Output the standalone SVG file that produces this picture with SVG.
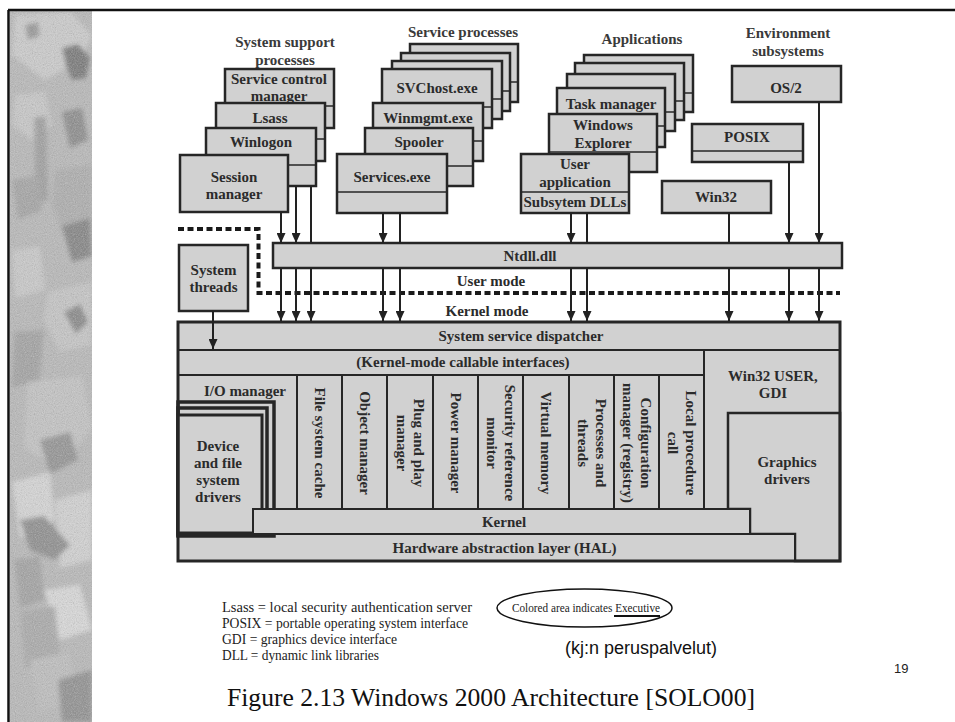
<svg xmlns="http://www.w3.org/2000/svg" width="955" height="722" viewBox="0 0 955 722">
<defs>
<style>
.box{fill:#d1d1d1;stroke:#262626;stroke-width:2.5}
.kb{fill:#d1d1d1;stroke:#262626;stroke-width:2}
.dv{stroke:#262626;stroke-width:1.6}
.t{font-family:"Liberation Serif","Times New Roman",serif;font-weight:bold;font-size:15px;fill:#2b2b2b;text-anchor:middle}
.h{font-family:"Liberation Serif","Times New Roman",serif;font-weight:bold;font-size:15px;fill:#3a3a3a;text-anchor:middle}
.fn{font-family:"Liberation Serif","Times New Roman",serif;font-size:14.5px;fill:#222}
.c{fill:none;stroke:#222;stroke-width:2}
.ca{fill:none;stroke:#222;stroke-width:2;marker-end:url(#ah)}
.stk{fill:none;stroke:#262626;stroke-width:3.5}
</style>
<marker id="ah" markerWidth="10" markerHeight="9" refX="10" refY="4.5" orient="auto" markerUnits="userSpaceOnUse">
<path d="M0,0 L10,4.5 L0,9 z" fill="#222"/>
</marker>
<filter id="grain" x="0" y="0" width="100%" height="100%">
<feTurbulence type="fractalNoise" baseFrequency="0.9" numOctaves="2" seed="4"/>
<feColorMatrix type="saturate" values="0"/>
<feComponentTransfer><feFuncA type="linear" slope="0.55"/></feComponentTransfer>
</filter>
<filter id="soft" x="-10%" y="-10%" width="120%" height="120%">
<feGaussianBlur stdDeviation="2"/>
</filter>
<clipPath id="stripclip"><rect x="10" y="11" width="82" height="711"/></clipPath>
</defs>
<rect x="0" y="0" width="955" height="722" fill="#ffffff"/>

<!-- decorative strip -->
<g id="strip" clip-path="url(#stripclip)">
<rect x="9" y="11" width="83" height="711" fill="#b8b8b8"/>
<g filter="url(#soft)">
<path d="M15,15 L70,12 L92,35 L80,60 L45,80 L12,55 Z" fill="#cdcdcd"/>
<path d="M62,48 L78,44 L90,58 L86,78 L72,80 L66,66 Z" fill="#727272"/>
<path d="M25,25 L38,22 L40,36 L28,40 Z" fill="#959595"/>
<path d="M15,95 L45,92 L52,125 L32,140 L12,125 Z" fill="#c9c9c9"/>
<path d="M62,112 L82,108 L88,140 L70,148 Z" fill="#878787"/>
<path d="M34,118 L46,116 L48,200 L36,204 Z" fill="#9c9c9c"/>
<path d="M12,180 L38,176 L42,210 L18,220 Z" fill="#a2a2a2"/>
<path d="M55,170 L92,165 L92,230 L65,238 L52,205 Z" fill="#acacac"/>
<path d="M62,226 L90,218 L92,256 L72,262 Z" fill="#7f7f7f"/>
<path d="M12,250 L40,246 L45,290 L15,298 Z" fill="#cacaca"/>
<path d="M48,292 L92,282 L92,345 L60,352 L44,320 Z" fill="#c6c6c6"/>
<path d="M64,312 L80,304 L88,322 L76,334 Z" fill="#838383"/>
<path d="M14,332 L44,330 L40,380 L12,388 Z" fill="#a0a0a0"/>
<path d="M28,382 L82,376 L92,428 L60,468 L24,448 Z" fill="#c4c4c4"/>
<path d="M40,440 L70,432 L78,460 L50,474 Z" fill="#909090"/>
<path d="M12,482 L50,472 L55,520 L20,538 Z" fill="#d8d8d8"/>
<path d="M55,500 L92,490 L92,560 L60,568 Z" fill="#d4d4d4"/>
<path d="M20,520 L44,516 L70,545 L55,560 L30,550 Z" fill="#8a8a8a"/>
<path d="M14,560 L40,556 L45,600 L20,608 Z" fill="#a0a0a0"/>
<path d="M44,590 L80,585 L92,630 L60,640 Z" fill="#dcdcdc"/>
<path d="M20,612 L55,606 L60,660 L25,668 Z" fill="#a8a8a8"/>
<path d="M30,660 L70,652 L75,700 L40,712 Z" fill="#bebebe"/>
<path d="M58,680 L92,670 L92,722 L62,722 Z" fill="#8c8c8c"/>
</g>
<rect x="9" y="11" width="83" height="711" filter="url(#grain)"/>
</g>
<g id="frame">
<line x1="8" y1="10" x2="955" y2="10" stroke="#111" stroke-width="2.5"/>
<line x1="8.5" y1="10" x2="8.5" y2="722" stroke="#111" stroke-width="2.5"/>
</g>

<!-- titles -->
<g id="titles">
<text class="h" x="285" y="47">System support</text>
<text class="h" x="285" y="65">processes</text>
<text class="h" x="463" y="37">Service processes</text>
<text class="h" x="642" y="44">Applications</text>
<text class="h" x="788" y="38">Environment</text>
<text class="h" x="788" y="56">subsystems</text>
</g>

<!-- system support processes -->
<g id="scm"><rect class="box" x="225" y="69" width="109" height="59"/><line class="dv" x1="225" y1="106" x2="334" y2="106"/><text class="t" x="279" y="84">Service control</text><text class="t" x="279" y="101">manager</text></g>
<g id="lsass"><rect class="box" x="216" y="103" width="109" height="58"/><line class="dv" x1="216" y1="139" x2="325" y2="139"/><text class="t" x="270" y="123">Lsass</text></g>
<g id="winlogon"><rect class="box" x="206" y="128" width="110" height="58"/><line class="dv" x1="206" y1="165" x2="316" y2="165"/><text class="t" x="261" y="147">Winlogon</text></g>
<g id="session-manager"><rect class="box" x="180" y="155" width="108" height="57"/><text class="t" x="234" y="182">Session</text><text class="t" x="234" y="198.5">manager</text></g>

<!-- service processes -->
<g id="svc-back3"><rect class="box" x="410" y="44" width="108" height="58"/><line class="dv" x1="410" y1="82" x2="518" y2="82"/></g>
<g id="svc-back2"><rect class="box" x="401" y="53" width="109" height="58"/><line class="dv" x1="401" y1="91" x2="510" y2="91"/></g>
<g id="svc-back1"><rect class="box" x="392" y="61" width="110" height="58"/><line class="dv" x1="392" y1="99" x2="502" y2="99"/></g>
<g id="svchost"><rect class="box" x="382" y="69" width="110" height="59"/><line class="dv" x1="382" y1="107" x2="492" y2="107"/><text class="t" x="437" y="93">SVChost.exe</text></g>
<g id="winmgmt"><rect class="box" x="373" y="103" width="110" height="58"/><line class="dv" x1="373" y1="141" x2="483" y2="141"/><text class="t" x="428" y="123">Winmgmt.exe</text></g>
<g id="spooler"><rect class="box" x="365" y="128" width="108" height="58"/><line class="dv" x1="365" y1="166" x2="473" y2="166"/><text class="t" x="419" y="147">Spooler</text></g>
<g id="services"><rect class="box" x="337" y="154" width="110" height="59"/><line class="dv" x1="337" y1="192" x2="447" y2="192"/><text class="t" x="392" y="182">Services.exe</text></g>

<!-- applications -->
<g id="app-back3"><rect class="box" x="584" y="55" width="109" height="57"/><line class="dv" x1="584" y1="93" x2="693" y2="93"/></g>
<g id="app-back2"><rect class="box" x="575" y="63" width="109" height="57"/><line class="dv" x1="575" y1="101" x2="684" y2="101"/></g>
<g id="app-back1"><rect class="box" x="567" y="74" width="108" height="57"/><line class="dv" x1="567" y1="112" x2="675" y2="112"/></g>
<g id="task-manager"><rect class="box" x="557" y="88" width="108" height="59"/><line class="dv" x1="557" y1="126" x2="665" y2="126"/><text class="t" x="611" y="109">Task manager</text></g>
<g id="windows-explorer"><rect class="box" x="549" y="114" width="108" height="58"/><line class="dv" x1="549" y1="152" x2="657" y2="152"/><text class="t" x="603" y="130">Windows</text><text class="t" x="603" y="148">Explorer</text></g>
<g id="user-application"><rect class="box" x="521" y="154" width="108" height="59"/><line class="dv" x1="521" y1="192" x2="629" y2="192"/><text class="t" x="575" y="169">User</text><text class="t" x="575" y="187">application</text><text class="t" x="575" y="207">Subsytem DLLs</text></g>

<!-- environment subsystems -->
<g id="os2"><rect class="box" x="732" y="66" width="109" height="36"/><text class="t" x="786" y="93">OS/2</text></g>
<g id="posix"><rect class="box" x="692" y="124" width="111" height="38"/><line class="dv" x1="692" y1="151" x2="803" y2="151"/><text class="t" x="747" y="142">POSIX</text></g>
<g id="win32"><rect class="box" x="662" y="181" width="109" height="32"/><text class="t" x="716" y="202">Win32</text></g>

<!-- ntdll and mode boundary -->
<g id="ntdll"><rect class="box" x="273" y="243" width="569" height="25"/><text class="t" x="530" y="261">Ntdll.dll</text></g>
<g id="mode-boundary">
<path d="M178,229 H258.5 V293 H840" fill="none" stroke="#1a1a1a" stroke-width="4" stroke-dasharray="6,3.5"/>
<text class="t" x="491" y="286">User mode</text>
<text class="t" x="487" y="316">Kernel mode</text>
</g>
<g id="system-threads"><rect class="box" x="179" y="245" width="69" height="66"/><text class="t" x="213.5" y="275">System</text><text class="t" x="213.5" y="292">threads</text></g>

<!-- kernel mode block -->
<g id="kernel-block">
<rect x="178" y="322" width="662" height="239" fill="#d1d1d1"/>
<g id="dispatcher"><rect class="kb" x="178" y="322" width="662" height="28"/><text class="t" x="521" y="341">System service dispatcher</text></g>
<g id="callable"><rect class="kb" x="178" y="350" width="526" height="25"/><text class="t" x="463" y="367">(Kernel-mode callable interfaces)</text></g>
<g id="win32-user-gdi"><rect class="kb" x="704" y="350" width="136" height="159"/><text class="t" x="773" y="380.5">Win32 USER,</text><text class="t" x="773" y="398">GDI</text></g>
<g id="io-manager"><rect class="kb" x="178" y="375" width="119" height="134"/><text class="t" x="245" y="396">I/O manager</text></g>
<g id="file-system-cache"><rect class="kb" x="297" y="375" width="45" height="134"/><text class="t" transform="translate(319.5,443) rotate(90)" x="0" y="5">File system cache</text></g>
<g id="object-manager"><rect class="kb" x="342" y="375" width="45" height="134"/><text class="t" transform="translate(364.5,443) rotate(90)" x="0" y="5">Object manager</text></g>
<g id="pnp-manager"><rect class="kb" x="387" y="375" width="46" height="134"/><g transform="translate(410,443) rotate(90)"><text class="t" x="0" y="-4">Plug and play</text><text class="t" x="0" y="13.5">manager</text></g></g>
<g id="power-manager"><rect class="kb" x="433" y="375" width="45" height="134"/><text class="t" transform="translate(455.5,443) rotate(90)" x="0" y="5">Power manager</text></g>
<g id="security-reference-monitor"><rect class="kb" x="478" y="375" width="45" height="134"/><g transform="translate(500.5,443) rotate(90)"><text class="t" x="0" y="-4">Security reference</text><text class="t" x="0" y="13.5">monitor</text></g></g>
<g id="virtual-memory"><rect class="kb" x="523" y="375" width="46" height="134"/><text class="t" transform="translate(546,443) rotate(90)" x="0" y="5">Virtual memory</text></g>
<g id="processes-threads"><rect class="kb" x="569" y="375" width="45" height="134"/><g transform="translate(591.5,443) rotate(90)"><text class="t" x="0" y="-4">Processes and</text><text class="t" x="0" y="13.5">threads</text></g></g>
<g id="configuration-manager"><rect class="kb" x="614" y="375" width="45" height="134"/><g transform="translate(636.5,443) rotate(90)"><text class="t" x="0" y="-4">Configuration</text><text class="t" x="0" y="13.5">manager (registry)</text></g></g>
<g id="local-procedure-call"><rect class="kb" x="659" y="375" width="45" height="134"/><g transform="translate(681.5,443) rotate(90)"><text class="t" x="0" y="-4">Local procedure</text><text class="t" x="0" y="13.5">call</text></g></g>
<g id="graphics-drivers"><path d="M728,413 H840 V561 H795 V534 H750 V509 H728 Z" fill="#d1d1d1" stroke="#262626" stroke-width="2.5"/><text class="t" x="787" y="467">Graphics</text><text class="t" x="787" y="484">drivers</text></g>
<g id="hal"><rect class="kb" x="178" y="534" width="617" height="27"/><text class="t" x="504.5" y="553">Hardware abstraction layer (HAL)</text></g>
<g id="device-drivers">
<rect class="stk" x="178" y="402" width="96" height="134"/>
<rect class="stk" x="178" y="408" width="89" height="127"/>
<rect x="178" y="415" width="84" height="118" fill="#d1d1d1" stroke="#262626" stroke-width="3"/>
<text class="t" x="218" y="450.5">Device</text><text class="t" x="218" y="467.5">and file</text><text class="t" x="218" y="484.5">system</text><text class="t" x="218" y="501.5">drivers</text>
</g>
<g id="kernel"><rect class="kb" x="253" y="509" width="497" height="25"/><text class="t" x="504" y="527">Kernel</text></g>
<rect x="178" y="322" width="662" height="239" fill="none" stroke="#262626" stroke-width="3"/>
</g>

<!-- connectors -->
<g id="connectors">
<path class="ca" d="M281,212 V243"/>
<path class="ca" d="M296,186 V243"/>
<path class="c" d="M311,186 V243"/>
<path class="ca" d="M383,213 V243"/>
<path class="c" d="M400,213 V243"/>
<path class="ca" d="M571,213 V243"/>
<path class="c" d="M587,213 V243"/>
<path class="c" d="M729,213 V243"/>
<path class="ca" d="M789,162 V243"/>
<path class="ca" d="M819,102 V243"/>
<path class="ca" d="M281,268 V321"/>
<path class="ca" d="M296,268 V321"/>
<path class="ca" d="M311,268 V321"/>
<path class="ca" d="M383,268 V321"/>
<path class="ca" d="M400,268 V321"/>
<path class="ca" d="M571,268 V321"/>
<path class="ca" d="M587,268 V321"/>
<path class="ca" d="M729,268 V321"/>
<path class="ca" d="M789,268 V321"/>
<path class="ca" d="M819,268 V321"/>
<path class="ca" d="M213,311 V349"/>
</g>

<!-- legend -->
<g id="legend">
<text class="fn" x="222" y="612" textLength="250" lengthAdjust="spacingAndGlyphs">Lsass = local security authentication server</text>
<text class="fn" x="222" y="628" textLength="246" lengthAdjust="spacingAndGlyphs">POSIX = portable operating system interface</text>
<text class="fn" x="222" y="644" textLength="175" lengthAdjust="spacingAndGlyphs">GDI = graphics device interface</text>
<text class="fn" x="222" y="660" textLength="157" lengthAdjust="spacingAndGlyphs">DLL = dynamic link libraries</text>
</g>
<g id="executive-note">
<ellipse cx="584.5" cy="608" rx="87.5" ry="19" fill="none" stroke="#111" stroke-width="1.5"/>
<text x="512" y="612" font-family="'Liberation Serif','Times New Roman',serif" font-size="13" fill="#222" textLength="148" lengthAdjust="spacingAndGlyphs">Colored area indicates Executive</text>
<line x1="614" y1="616" x2="660" y2="616" stroke="#111" stroke-width="2.2"/>
<text x="565" y="654" font-family="'Liberation Sans',Arial,sans-serif" font-size="18" fill="#111">(kj:n peruspalvelut)</text>
</g>
<text x="894" y="673" font-family="'Liberation Sans',Arial,sans-serif" font-size="13" fill="#222">19</text>
<text x="227" y="706" font-family="'Liberation Serif','Times New Roman',serif" font-size="25" fill="#111" textLength="528" lengthAdjust="spacingAndGlyphs">Figure 2.13  Windows 2000 Architecture [SOLO00]</text>
</svg>
